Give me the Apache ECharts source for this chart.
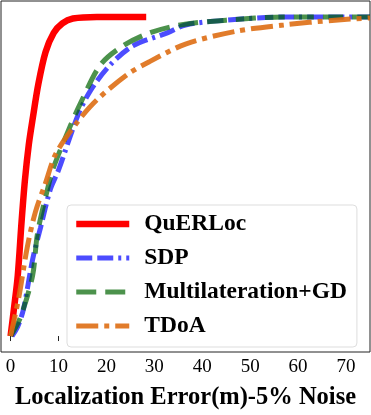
<!DOCTYPE html>
<html>
<head>
<meta charset="utf-8">
<script src="https://cdn.jsdelivr.net/npm/echarts@6/dist/echarts.min.js"></script>
<style>
  html, body { margin: 0; padding: 0; background: #fff; }
  #chart { width: 371px; height: 415px; }
</style>
</head>
<body>
<div id="chart"></div>
<script>
// CDF curves
const querlocX = [0, 0.7, 1.5, 2.3, 3.0, 3.8, 4.6, 5.8, 7.3, 9, 10.8, 13, 18, 28.3];
const querlocY = [0, 0.085, 0.19, 0.36, 0.49, 0.6, 0.68, 0.79, 0.89, 0.95, 0.98, 0.995, 1.0, 1.0];

const sdpX = [0.3, 1.5, 2.7, 4.6, 6.25, 8.3, 10, 14, 16.7, 20.8, 25.6, 32.7, 36.5, 45, 57, 75];
const sdpY = [0, 0.03, 0.085, 0.24, 0.34, 0.46, 0.52, 0.69, 0.77, 0.85, 0.91, 0.95, 0.975, 0.99, 1.0, 1.0];

const multiX = [0, 2.1, 4.6, 5.6, 7.7, 9, 12.5, 14.6, 18.75, 23.5, 29, 35.4, 45, 57, 75];
const multiY = [0, 0.06, 0.19, 0.32, 0.46, 0.53, 0.66, 0.73, 0.85, 0.91, 0.95, 0.975, 0.99, 1.0, 1.0];

const tdoaX = [0, 1.7, 3.5, 5.2, 7.3, 9.4, 13.9, 18, 24.4, 29, 36.5, 47, 57, 67.7, 75];
const tdoaY = [0, 0.12, 0.28, 0.39, 0.48, 0.57, 0.67, 0.74, 0.82, 0.86, 0.915, 0.955, 0.975, 0.99, 0.997];

const xTicks = [0, 10, 20, 30, 40, 50, 60, 70];
const names = ['QuERLoc', 'SDP', 'Multilateration+GD', 'TDoA'];

const pairs = (xs, ys) => xs.map((x, i) => [x, ys[i]]);

let chart = echarts.init(document.querySelector('#chart'), null, { renderer: 'canvas' });

const serif = '"Liberation Serif", "DejaVu Serif", serif';

// line looks, shared by series and legend samples
const looks = [
  { color: '#ff0000', width: 6.5, type: 'solid' },
  { color: 'rgba(0,0,255,0.7)', width: 5, type: [16, 5, 16, 5, 3, 5] },
  { color: 'rgba(0,100,0,0.7)', width: 5, type: [20, 9] },
  { color: 'rgba(222,110,20,0.9)', width: 5, type: [22, 6, 5, 6] }
];

const mkSeries = (i, data) => ({
  name: names[i],
  type: 'line',
  data: data,
  smooth: 0.3,
  symbol: 'none',
  lineStyle: Object.assign({ cap: 'butt' }, looks[i]),
  itemStyle: { color: looks[i].color }
});

chart.setOption({
  animation: false,
  grid: {
    left: 1, right: 1, top: 1, bottom: 58,
    show: true, borderColor: '#222', borderWidth: 1
  },
  legend: {
    orient: 'vertical',
    left: 67, top: 205,
    padding: [7, 10, 9, 6],
    itemWidth: 53,
    itemHeight: 14,
    itemGap: 10,
    backgroundColor: '#fff',
    borderColor: '#ddd',
    borderWidth: 1,
    borderRadius: 4,
    itemStyle: { opacity: 0 },
    textStyle: { fontFamily: serif, fontWeight: 'bold', fontSize: 23.5, color: '#000', lineHeight: 23, padding: [0, 0, 0, 10] },
    data: names.map((n, i) => ({
      name: n,
      itemStyle: { opacity: 0 },
      lineStyle: Object.assign({ cap: 'butt' }, looks[i])
    }))
  },
  xAxis: {
    type: 'value',
    min: -2, max: 75,
    splitLine: { show: false },
    axisLine: { show: false },
    axisTick: { show: true, customValues: xTicks, length: 5, lineStyle: { color: '#222' } },
    axisLabel: { customValues: xTicks, fontFamily: serif, fontSize: 19, color: '#000', margin: 6 },
    name: 'Localization Error(m)-5% Noise',
    nameLocation: 'middle',
    nameGap: 33,
    nameTextStyle: { fontFamily: serif, fontWeight: 'bold', fontSize: 24.5, color: '#000' }
  },
  yAxis: {
    type: 'value',
    min: -0.05, max: 1.05,
    splitLine: { show: false },
    axisLine: { show: false },
    axisTick: { show: false },
    axisLabel: { show: false }
  },
  series: [
    mkSeries(0, pairs(querlocX, querlocY)),
    mkSeries(1, pairs(sdpX, sdpY)),
    mkSeries(2, pairs(multiX, multiY)),
    mkSeries(3, pairs(tdoaX, tdoaY))
  ]
});
</script>
</body>
</html>
